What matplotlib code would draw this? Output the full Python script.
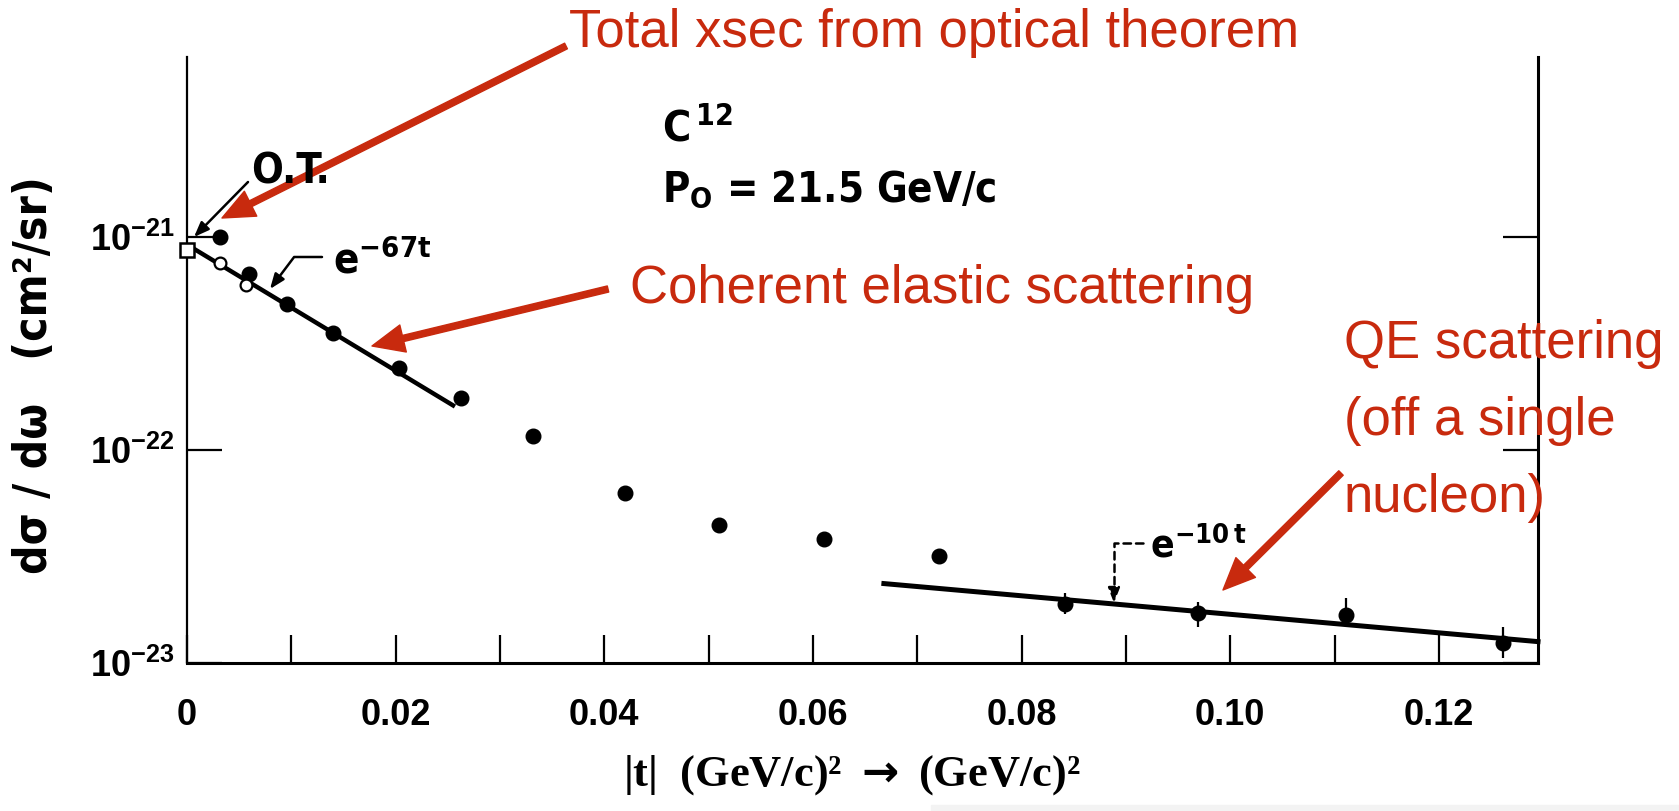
import matplotlib
matplotlib.use("Agg")
import matplotlib.pyplot as plt
from matplotlib.patches import FancyArrowPatch, Rectangle
from matplotlib.ticker import NullLocator

# |t| in (GeV/c)^2 and dsigma/domega in cm^2/sr
t_full = [0.0032, 0.0059, 0.0096, 0.0140, 0.0203, 0.0263, 0.0332,
          0.0420, 0.0510, 0.0611, 0.0721, 0.0842, 0.0969, 0.1111, 0.1261]
xs_full = [9.97e-22, 6.70e-22, 4.85e-22, 3.55e-22, 2.42e-22, 1.75e-22, 1.16e-22,
           6.26e-23, 4.44e-23, 3.82e-23, 3.18e-23, 1.89e-23, 1.72e-23, 1.68e-23, 1.24e-23]
err_lo = [0, 0, 0, 0, 0, 0, 0,
          0.27e-23, 0.19e-23, 0.21e-23, 0.10e-23, 0.19e-23, 0.25e-23, 0.14e-23, 0.19e-23]
err_hi = [0, 0, 0, 0, 0, 0, 0,
          0.28e-23, 0.19e-23, 0.22e-23, 0.10e-23, 0.24e-23, 0.21e-23, 0.34e-23, 0.23e-23]

t_open = [0.0032, 0.0057]
xs_open = [7.52e-22, 5.95e-22]

# optical theorem point
t_ot = [0.0]
xs_ot = [8.69e-22]

# the two slopes drawn on the figure (end points)
t_coh = [0.0006, 0.0255]
xs_coh = [8.84e-22, 1.62e-22]
t_qe = [0.0668, 0.1295]
xs_qe = [2.36e-23, 1.26e-23]

x_ticks = [0, 0.02, 0.04, 0.06, 0.08, 0.10, 0.12]
x_tick_labels = ['0', '0.02', '0.04', '0.06', '0.08', '0.10', '0.12']
x_minor = [0.01, 0.03, 0.05, 0.07, 0.09, 0.11]
y_ticks = [1e-23, 1e-22, 1e-21]
y_tick_labels = [r'$\mathregular{10^{-23}}$', r'$\mathregular{10^{-22}}$',
                 r'$\mathregular{10^{-21}}$']

RED = '#c82a0e'
NARROW = ['Liberation Sans Narrow', 'DejaVu Sans']
W, H = 1679, 811


def px(x, y):
    # pixel position in the 1679x811 picture -> figure fraction
    return (x / W, 1 - y / H)


fig = plt.figure(figsize=(W / 100, H / 100), dpi=100)
ax = fig.add_axes([187 / W, 1 - 663 / H, (1538 - 187) / W, (663 - 57) / H])
ax.set_yscale('log')
ax.set_xlim(0, 0.1295)
ax.set_ylim(1e-23, 7.0e-21)

ax.plot(t_coh, xs_coh, color='k', lw=3.2, zorder=2)
ax.plot(t_qe, xs_qe, color='k', lw=3.6, zorder=2, clip_on=False)
ax.errorbar(t_full, xs_full, yerr=[err_lo, err_hi], fmt='o', ms=10.5, color='k',
            ecolor='k', elinewidth=1.6, capsize=0, zorder=3)
ax.plot(t_open, xs_open, 'o', ms=8.5, mfc='white', mec='k', mew=1.6, zorder=4)
ax.plot(t_ot, xs_ot, 's', ms=9.5, mfc='white', mec='k', mew=1.8, zorder=4, clip_on=False)

# axes look of the old scan
ax.spines['top'].set_visible(False)
ax.spines['left'].set_linewidth(1.6)
ax.spines['right'].set_linewidth(2.2)
ax.spines['bottom'].set_linewidth(2.2)
ax.set_xticks(x_ticks, x_tick_labels, family='Liberation Sans', weight='bold', fontsize=26)
ax.set_xticks(x_minor, minor=True)
ax.set_yticks(y_ticks, y_tick_labels, family='Liberation Sans', weight='bold', fontsize=26)
ax.yaxis.set_minor_locator(NullLocator())
ax.tick_params(axis='x', which='both', direction='in', length=20, width=1.6, pad=25)
ax.tick_params(axis='y', which='major', direction='in', length=25, width=1.6,
               left=True, right=True, pad=9)

ax.set_ylabel('dσ / dω   (cm²/sr)', family=NARROW, weight='bold', stretch='condensed',
              fontsize=33)
ax.yaxis.label.set_va('center')
ax.yaxis.set_label_coords((35 - 187) / 1351, (663 - 375) / 606)
ax.set_xlabel(r'|t|  (GeV/c)² $\mathbf{\rightarrow}$ (GeV/c)²', family='Liberation Serif',
              weight='bold', fontsize=32)
ax.xaxis.label.set_va('center')
ax.xaxis.set_label_coords((852 - 187) / 1351, (663 - 775) / 606)

# black labels of the original figure
blk = dict(family=NARROW, weight='bold', stretch='condensed', color='k')
fig.text(*px(662, 142), r'$\mathregular{C^{\,12}}$', fontsize=31, ha='left', va='baseline', **blk)
fig.text(*px(662, 202), r'$\mathregular{P_O}$ = 21.5 GeV/c', fontsize=30, ha='left',
         va='baseline', **blk)
fig.text(*px(291, 184), 'O.T.', fontsize=30, ha='center', va='baseline', **blk)
fig.text(*px(333, 273), r'$\mathregular{e^{-67t}}$', fontsize=30, ha='left', va='baseline', **blk)
fig.text(*px(1150, 557), r'$\mathregular{e^{-10\,t}}$', fontsize=28, ha='left', va='baseline', **blk)

small_head = dict(arrowstyle='-|>,head_length=0.9,head_width=0.35', lw=1.8, color='k',
                  shrinkA=0, shrinkB=0)
ax.annotate('', xy=px(194, 237), xytext=px(248, 182), xycoords='figure fraction',
            textcoords='figure fraction', arrowprops=small_head)
ax.annotate('', xy=px(270, 289), xytext=px(322, 257), xycoords='figure fraction',
            textcoords='figure fraction',
            arrowprops=dict(small_head, connectionstyle='angle,angleA=0,angleB=53,rad=0'))
ax.annotate('', xy=px(1114, 603), xytext=px(1143, 543), xycoords='figure fraction',
            textcoords='figure fraction',
            arrowprops=dict(small_head, ls=(0, (3, 2)),
                            connectionstyle='angle,angleA=0,angleB=90,rad=0'))

# red notes added on top of the scan
red = dict(family='Liberation Sans', color=RED, fontsize=38, ha='left', va='baseline')
fig.text(*px(569, 47), 'Total xsec from optical theorem', **red)
fig.text(*px(630, 303), 'Coherent elastic scattering', **red)
fig.text(*px(1344, 358), 'QE scattering', **red)
fig.text(*px(1344, 435), '(off a single', **red)
fig.text(*px(1344, 512), 'nucleon)', **red)

for tail, head in [((566, 46), (222, 218)), ((608, 289), (372, 346)), ((1341, 473), (1223, 590))]:
    fig.add_artist(FancyArrowPatch(px(*tail), px(*head), transform=fig.transFigure,
                                   arrowstyle='simple,head_length=2.3,head_width=2.0,tail_width=0.45',
                                   mutation_scale=10, color=RED, shrinkA=0, shrinkB=0))

fig.add_artist(Rectangle(px(931, 811), 1 - 931 / W, 6 / H, transform=fig.transFigure,
                         color='#f3f3f3', zorder=0))

fig.savefig('out.png', dpi=100)
